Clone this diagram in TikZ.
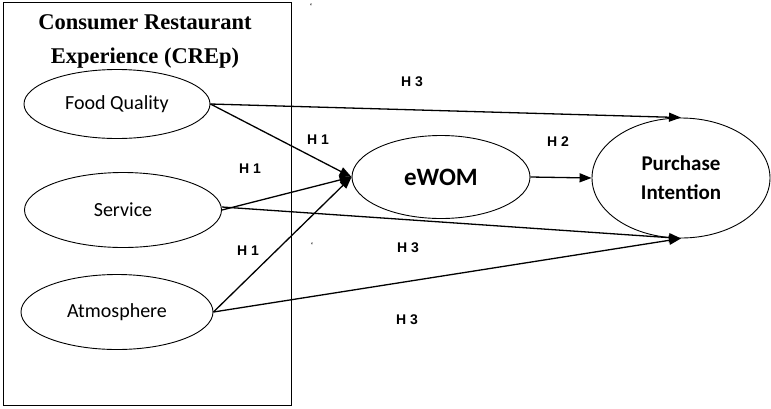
\documentclass[tikz,border=0pt]{standalone}
\usepackage{fontspec}
\setmainfont{Liberation Serif}
\newfontfamily\labelfont{Carlito}
\newfontfamily\hypfont{Liberation Sans}
\usetikzlibrary{arrows.meta,shapes.geometric}
\begin{document}
\begin{tikzpicture}[x=1pt,y=-1pt,
  construct/.style={draw,ellipse,line width=0.9pt,inner sep=0pt,
    font=\labelfont\fontsize{20}{24}\selectfont},
  link/.style={line width=1.3pt,-{Triangle[length=12pt,width=9pt]}},
  hyp/.style={font=\hypfont\bfseries\fontsize{14}{16}\selectfont}]
\useasboundingbox (0,0) rectangle (771,408);
% outer frame of the CREp construct
\draw[line width=0.9pt] (3,2) rectangle (291,405);
\node[font=\bfseries\fontsize{22.5}{34}\selectfont,align=center] (title) at (145,41)
  {Consumer Restaurant\\Experience (CREp)};
% constructs
\node[construct,minimum width=186pt,minimum height=69pt] (fq) at (117,104) {Food Quality};
\node[construct,minimum width=197pt,minimum height=75pt] (sv) at (123,210) {Service};
\node[construct,minimum width=192pt,minimum height=75pt] (at) at (117,312) {Atmosphere};
\node[construct,minimum width=178pt,minimum height=83pt,
  font=\labelfont\bfseries\fontsize{25}{28}\selectfont] (ew) at (441,177) {eWOM};
\node[construct,minimum width=178pt,minimum height=120pt,align=center,
  font=\labelfont\bfseries\fontsize{21}{29}\selectfont] (pi) at (681,178) {Purchase\\Intention};
% hypothesised paths
\draw[link] (fq.east) -- (ew.west);
\draw[link] (sv.east) -- (ew.west);
\draw[link] (at.east) -- (ew.west);
\draw[link] (fq.east) -- (pi.north);
\draw[link] ([yshift=3pt]sv.east) -- (pi.south);
\draw[link] (at.east) -- (pi.south);
\draw[link] (ew.east) -- (pi.west);
% path labels
\node[hyp] (h3a) at (412,82) {H 3};
\node[hyp] (h1a) at (318,140) {H 1};
\node[hyp] (h2) at (558,142) {H 2};
\node[hyp] (h1b) at (250,169) {H 1};
\node[hyp] (h1c) at (248,251) {H 1};
\node[hyp] (h3b) at (408,248) {H 3};
\node[hyp] (h3c) at (407,320) {H 3};
% stray marks
\node[font=\fontsize{9}{9}\selectfont] (m1) at (311,6) {`};
\node[font=\fontsize{9}{9}\selectfont] (m2) at (312,245) {`};
\end{tikzpicture}
\end{document}
